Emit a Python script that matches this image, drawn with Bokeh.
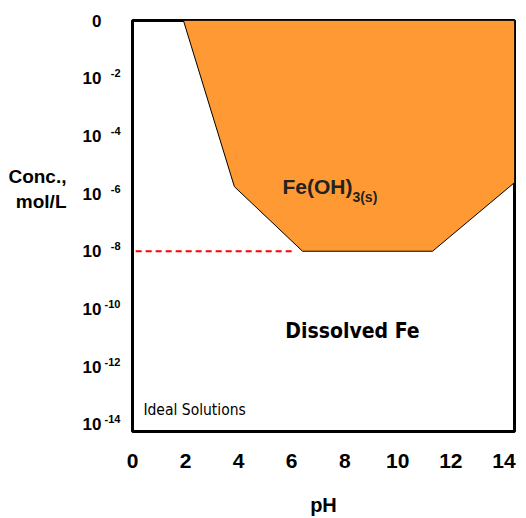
from bokeh.plotting import figure
from bokeh.models import Range1d, FixedTicker, Label, LinearAxis
from bokeh.embed import file_html
from bokeh.resources import INLINE

# axis ticks
ph_ticks = [0, 2, 4, 6, 8, 10, 12, 14]
log_ticks = [0, -2, -4, -6, -8, -10, -12, -14]

# Fe(OH)3(s) stability region boundary: pH vs log10(conc, mol/L)
boundary_ph = [1.92, 3.84, 6.41, 11.31, 14.4, 14.4]
boundary_logc = [0.0, -5.76, -8.0, -8.0, -5.62, 0.0]

# dashed reference line at 1e-8 mol/L
ref_ph = [0.12, 6.05]
ref_logc = [-8.0, -8.0]

BOLD = "Liberation Sans"
Y_LO, Y_HI = -14.25, 0.0
SUP_SHIFT = 0.17  # raises exponent labels a few pixels above the "10"

p = figure(width=526, height=518,
           x_range=Range1d(0, 14.4), y_range=Range1d(Y_LO, Y_HI),
           y_axis_location=None,
           output_backend="svg", toolbar_location=None,
           min_border_left=132, min_border_right=12,
           min_border_top=20, min_border_bottom=82)
p.extra_y_ranges = {"sup": Range1d(Y_LO - SUP_SHIFT, Y_HI - SUP_SHIFT)}

p.grid.visible = False
p.outline_line_color = "black"
p.outline_line_width = 3
p.background_fill_color = "white"
p.border_fill_color = "white"

# region
p.patch(boundary_ph, boundary_logc, fill_color="#FF9933", line_color="black", line_width=1)
p.line(ref_ph, ref_logc, line_color="#FF0000", line_width=1.8, line_dash="6 4")


def plain(axis, size, standoff):
    axis.axis_line_color = None
    axis.major_tick_line_color = None
    axis.minor_tick_line_color = None
    axis.major_tick_out = 0
    axis.major_tick_in = 0
    axis.minor_tick_out = 0
    axis.minor_tick_in = 0
    axis.major_label_text_font = BOLD
    axis.major_label_text_font_style = "bold"
    axis.major_label_text_font_size = size
    axis.major_label_text_color = "black"
    axis.major_label_standoff = standoff
    return axis


# x axis
xa = plain(p.xaxis[0], "21px", 22)
xa.ticker = FixedTicker(ticks=ph_ticks)
xa.axis_label = "pH"
xa.axis_label_text_font = BOLD
xa.axis_label_text_font_style = "bold"
xa.axis_label_text_font_size = "20px"
xa.axis_label_text_color = "black"
xa.axis_label_standoff = 23

# y axis: exponent part (closest to the frame)
exp_ticks = [t for t in log_ticks if t != 0]
ea = plain(LinearAxis(y_range_name="sup", ticker=FixedTicker(ticks=exp_ticks),
                      major_label_overrides={t: str(t) for t in exp_ticks}), "11px", 12)
p.add_layout(ea, "left")

# y axis: base part
ba = plain(LinearAxis(ticker=FixedTicker(ticks=log_ticks),
                      major_label_overrides={t: ("0" if t == 0 else "10") for t in log_ticks}),
           "17px", 0)
p.add_layout(ba, "left")

# y axis title, horizontal, outside the tick labels
ta = plain(LinearAxis(ticker=FixedTicker(ticks=[-5.41, -6.27]),
                      major_label_overrides={-5.41: "Conc.,", -6.27: "mol/L"}),
           "19px", 13)
p.add_layout(ta, "left")


# annotations inside the plot
def lab(x, y, text, size, style="bold", font=BOLD, align="left", baseline="middle", color="black"):
    p.add_layout(Label(x=x, y=y, text=text, text_font=font, text_font_style=style,
                       text_font_size=size, text_color=color, text_align=align,
                       text_baseline=baseline))


lab(5.65, -5.76, "Fe(OH)", "21px", baseline="alphabetic", color="#222222")
lab(8.29, -6.13, "3(s)", "14px", baseline="alphabetic", color="#222222")
lab(8.29, -10.76, "Dissolved Fe", "21px", font="DejaVu Sans Condensed", align="center")
lab(0.41, -13.51, "Ideal Solutions", "15.5px", style="normal", font="DejaVu Sans Condensed")

open("out.html", "w").write(file_html(p, INLINE))
